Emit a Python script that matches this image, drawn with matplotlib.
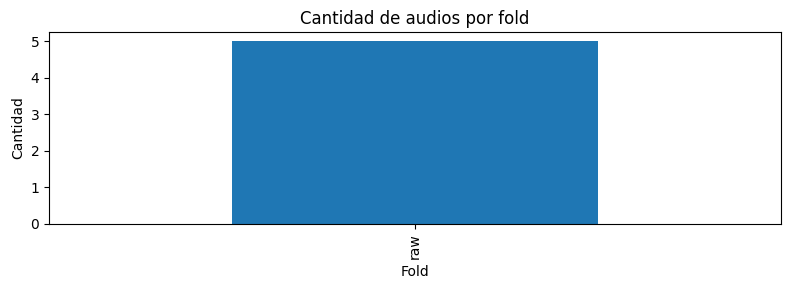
import matplotlib
matplotlib.use("Agg")
from matplotlib import pyplot as plt

# Datos
folds = ["raw"]
cantidades = [5]

fig, ax = plt.subplots(figsize=(7.9, 2.9), dpi=100)
ax.bar(range(len(folds)), cantidades, width=0.5, color="#1f77b4")
ax.set_xlim(-0.5, len(folds) - 0.5)
ax.set_xticks(range(len(folds)))
ax.set_xticklabels(folds, rotation=90)
ax.set_xlabel("Fold")
ax.set_ylabel("Cantidad")
ax.set_title("Cantidad de audios por fold")
# Ajuste de márgenes
fig.subplots_adjust(left=0.062, right=0.9886, top=0.8897, bottom=0.2276)
plt.savefig("out.png", dpi=100)
plt.close(fig)
